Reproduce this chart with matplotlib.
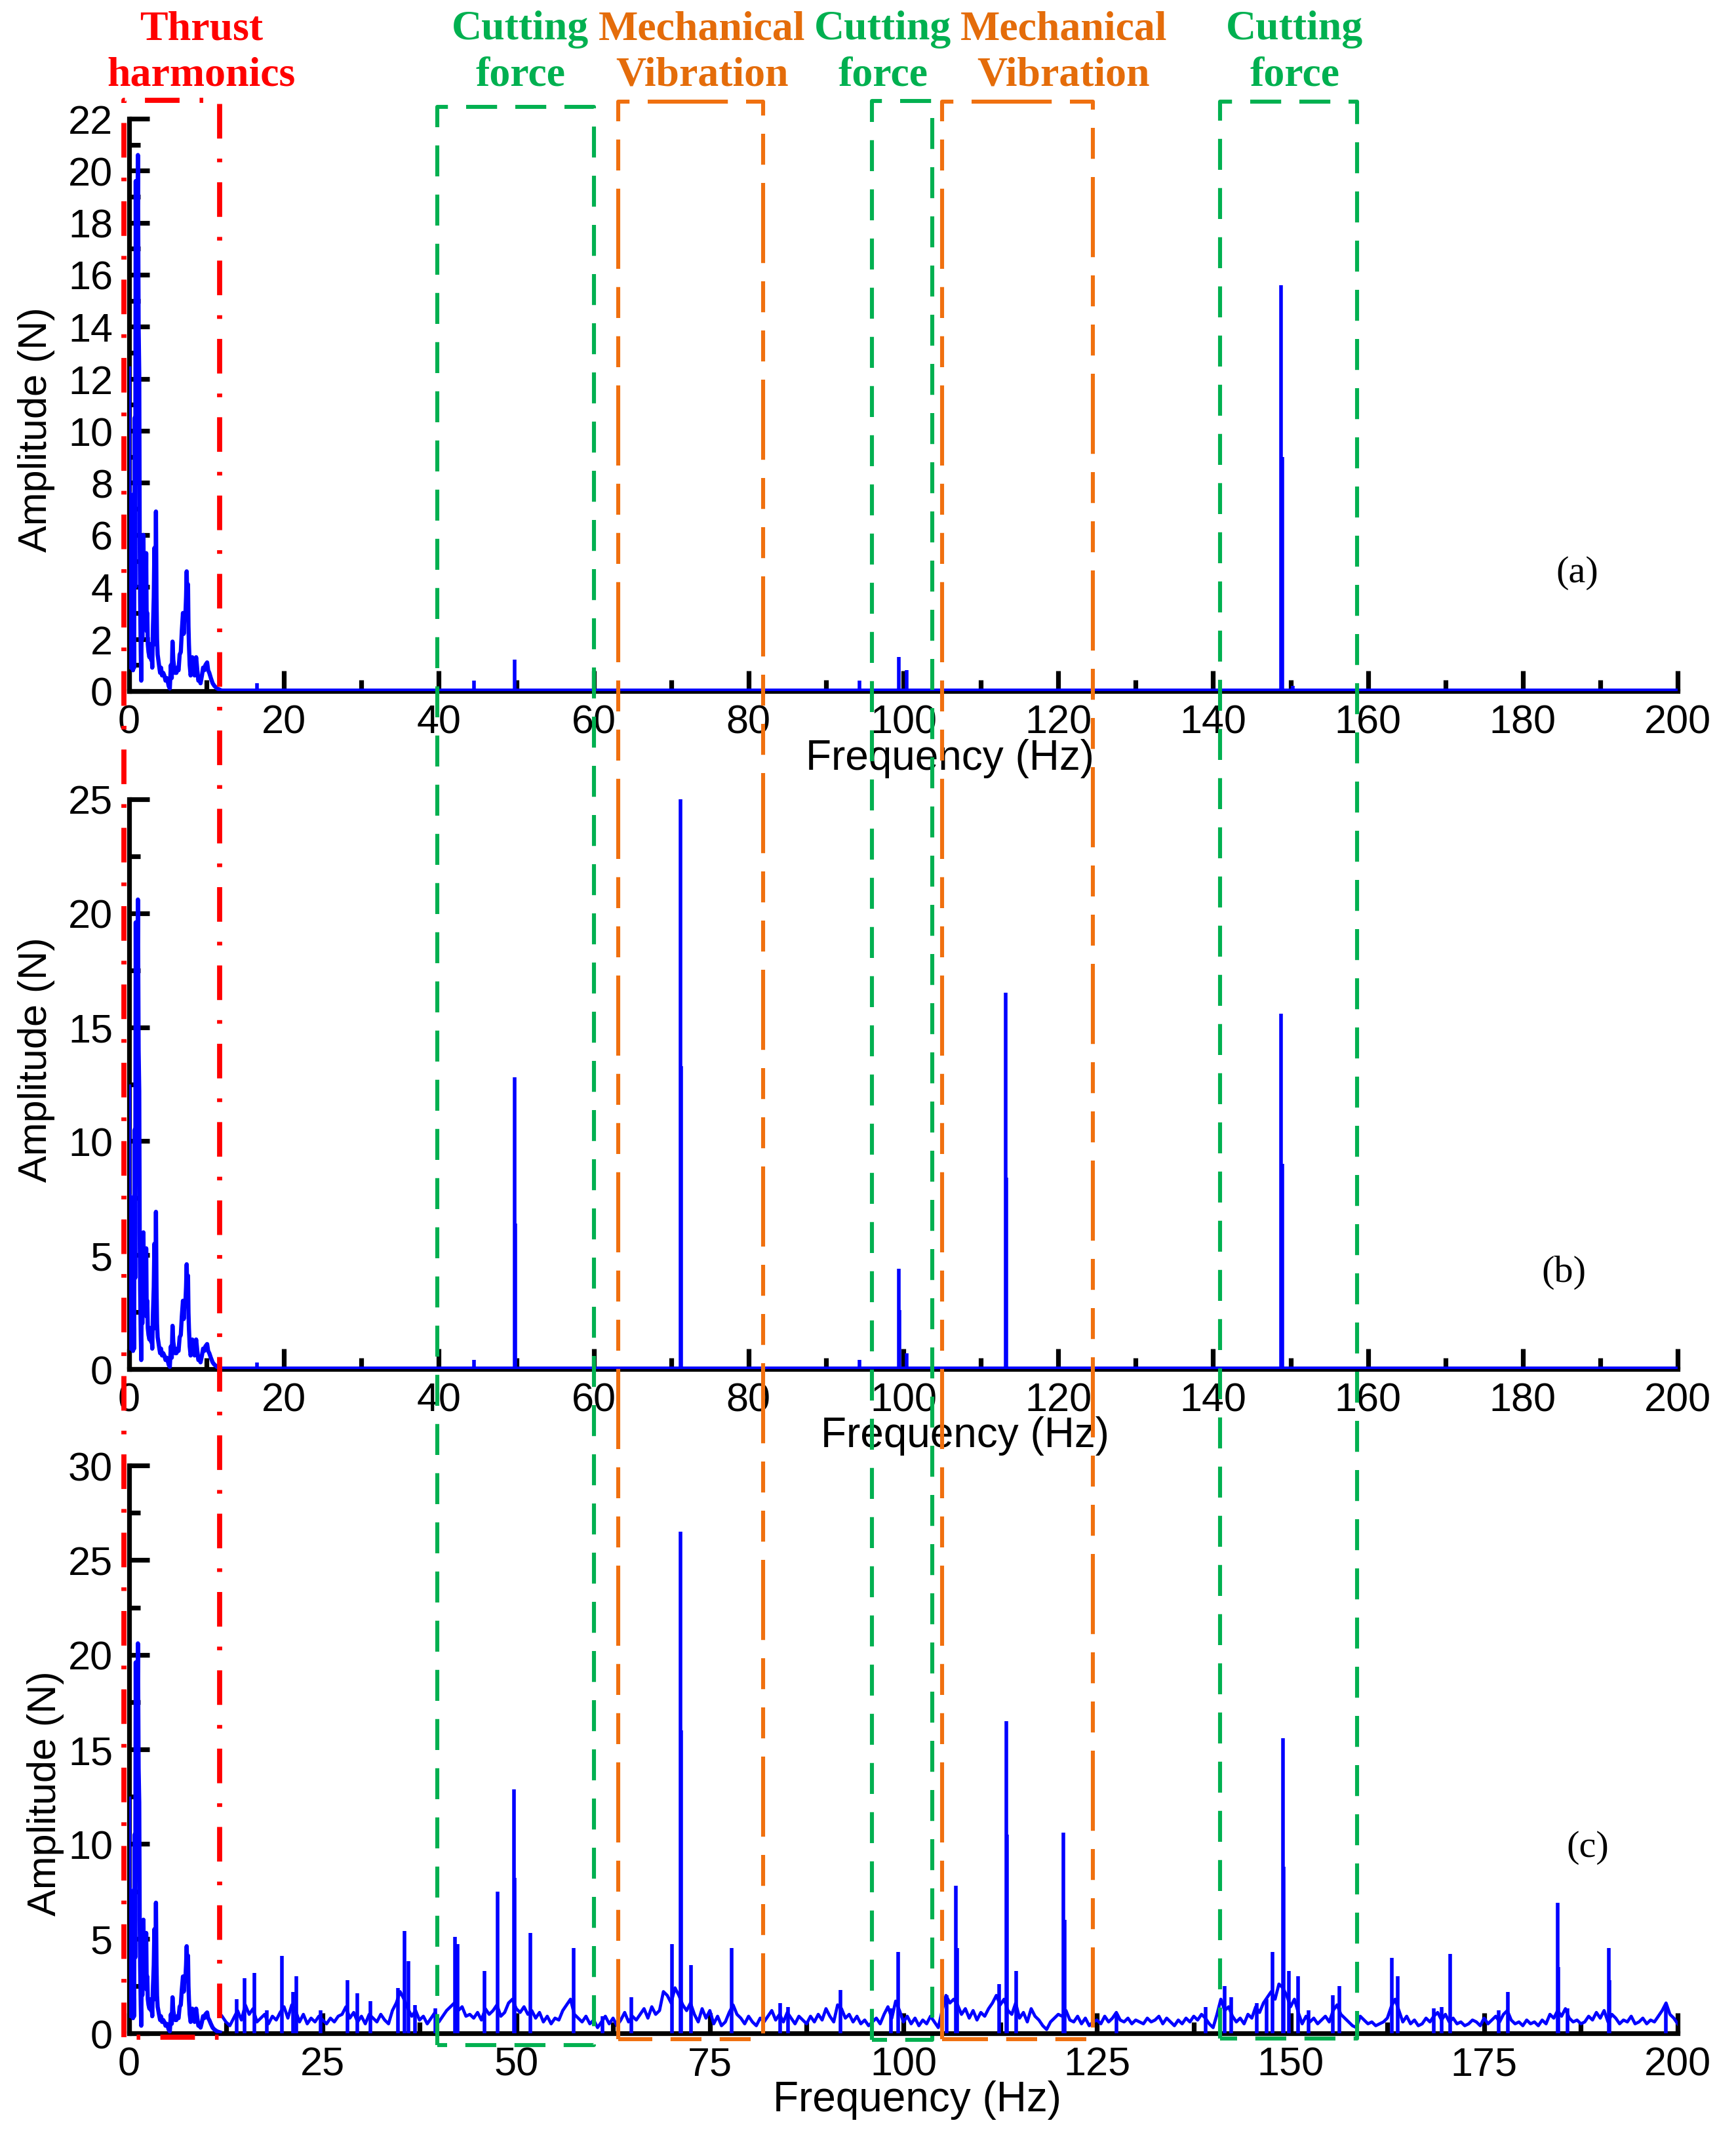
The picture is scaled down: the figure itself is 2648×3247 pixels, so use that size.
import numpy as np
import matplotlib
matplotlib.use("Agg")
import matplotlib.pyplot as plt
from matplotlib.ticker import MultipleLocator
from matplotlib.lines import Line2D

plt.rcParams['font.family'] = ['Liberation Sans', 'DejaVu Sans']
plt.rcParams['lines.scale_dashes'] = False

#-------------------------------
#   data
#-------------------------------
# thrust harmonics region, same in all three panels (Hz, N)
low_f = [0.00, 0.06, 0.12, 0.20, 0.27, 0.34, 0.42, 0.50, 0.57, 0.64,
         0.71, 0.78, 0.85, 0.92, 1.00, 1.13, 1.22, 1.30, 1.36, 1.42,
         1.50, 1.56, 1.63, 1.70, 1.77, 1.84, 1.92, 1.99, 2.06, 2.13,
         2.20, 2.27, 2.34, 2.41, 2.50, 2.62, 2.75, 2.84, 2.92, 2.98,
         3.08, 3.18, 3.26, 3.32, 3.40, 3.46, 3.53, 3.60, 3.68, 3.77,
         3.90, 4.00, 4.11, 4.25, 4.40, 4.54, 4.70, 4.85, 4.96, 5.10,
         5.25, 5.39, 5.50, 5.60, 5.70, 5.82, 5.95, 6.10, 6.25, 6.38,
         6.52, 6.67, 6.80, 6.95, 7.05, 7.15, 7.25, 7.35, 7.43, 7.52,
         7.60, 7.66, 7.72, 7.82, 7.94, 8.05, 8.15, 8.23, 8.35, 8.45,
         8.55, 8.65, 8.80, 8.94, 9.08, 9.22, 9.40, 9.55, 9.70, 9.85,
         10.07, 10.20, 10.35, 10.55, 10.78, 11.00, 11.35, 11.70]
low_a = [12.4, 2.5, 7.6, 0.9, 3.8, 1.2, 3.3, 0.8, 2.0, 0.9,
         10.5, 4.0, 19.6, 9.0, 15.0, 20.6, 14.0, 12.2, 6.0, 3.5,
         1.5, 0.4, 3.8, 2.0, 3.0, 6.0, 3.0, 3.0, 5.2, 3.0,
         5.3, 2.3, 3.0, 1.8, 1.5, 1.3, 1.8, 1.2, 1.5, 0.9,
         2.5, 3.6, 5.5, 1.8, 4.0, 6.9, 3.6, 2.0, 1.4, 1.2,
         0.9, 0.7, 0.9, 0.6, 0.7, 0.6, 0.4, 0.5, 0.4, 0.2,
         0.1, 1.0, 0.5, 1.9, 1.2, 0.9, 0.7, 0.7, 0.9, 0.8,
         1.4, 1.5, 2.3, 3.0, 2.2, 3.0, 2.8, 3.6, 4.6, 3.2,
         4.1, 2.5, 1.8, 1.0, 0.6, 0.9, 1.3, 0.9, 0.7, 0.6,
         0.9, 1.3, 0.8, 0.4, 0.5, 0.3, 0.6, 0.9, 0.8, 1.0,
         1.1, 0.8, 0.7, 0.5, 0.3, 0.2, 0.1, 0.05]

# flat floor of panels (a) and (b)
floor_ab_f = [11.70, 200.0]
floor_ab_a = [0.05, 0.05]

# noise floor of panel (c), every 0.5 Hz from 12 to 200 Hz
floor_c_a = [
    0.9, 0.6, 0.4, 0.8, 1.2, 0.7, 1.5, 1.0, 1.3, 0.6,
    0.8, 1.0, 0.5, 0.9, 0.7, 1.1, 1.4, 0.8, 1.5, 1.2,
    0.6, 1.0, 0.5, 0.8, 0.6, 0.9, 0.7, 0.5, 0.8, 0.6,
    0.9, 1.0, 1.4, 0.8, 1.1, 0.6, 0.9, 0.5, 1.0, 0.8,
    0.6, 1.0, 0.7, 0.5, 1.2, 1.6, 2.2, 1.8, 1.3, 0.9,
    1.2, 0.7, 0.9, 0.5, 0.8, 1.1, 0.6, 0.9, 1.2, 1.4,
    1.6, 1.2, 1.4, 0.9, 1.0, 0.8, 1.1, 0.7, 1.3, 1.0,
    1.2, 1.5, 0.9, 1.1, 1.6, 1.8, 1.3, 1.1, 1.4, 1.0,
    1.2, 0.8, 1.1, 0.6, 0.9, 0.5, 0.8, 0.7, 1.2, 1.5,
    1.8, 1.0, 0.8, 0.6, 0.9, 0.5, 0.7, 0.3, 0.6, 0.9,
    0.5, 0.8, 0.4, 0.7, 1.1, 0.6, 0.9, 0.7, 1.0, 1.3,
    0.8, 1.4, 1.0, 1.2, 2.2, 2.0, 1.6, 2.4, 2.0, 1.5,
    1.2, 1.6, 1.0, 0.6, 1.3, 0.8, 1.2, 0.5, 0.9, 0.4,
    0.6, 1.1, 1.5, 1.0, 0.8, 0.5, 0.9, 0.6, 0.4, 0.8,
    0.6, 0.9, 1.2, 0.7, 1.0, 0.6, 1.1, 0.8, 0.5, 0.9,
    0.7, 0.5, 0.9, 0.6, 1.0, 0.7, 1.3, 0.9, 0.6, 1.5,
    1.3, 0.8, 1.0, 0.6, 0.9, 0.5, 0.7, 0.4, 0.6, 0.8,
    0.5, 1.0, 1.4, 0.8, 1.7, 1.2, 0.6, 0.9, 0.5, 0.8,
    0.4, 0.7, 0.5, 0.9, 0.6, 0.3, 1.2, 2.0, 1.6, 1.8,
    1.5, 1.0, 1.3, 0.8, 1.2, 0.7, 1.1, 0.9, 1.3, 1.6,
    2.0, 1.5, 1.8, 1.2, 1.0, 1.6, 0.8, 1.1, 0.6, 1.3,
    0.9, 0.7, 0.4, 0.2, 0.6, 0.8, 1.0, 0.9, 1.2, 0.7,
    0.6, 0.9, 0.5, 0.8, 0.4, 0.6, 0.7, 0.5, 0.9, 0.6,
    0.8, 1.1, 0.7, 0.6, 0.8, 0.5, 0.7, 0.6, 0.5, 0.8,
    0.6, 0.7, 0.9, 0.5, 0.8, 0.6, 0.4, 0.7, 0.5, 0.8,
    0.6, 0.9, 0.7, 1.0, 0.8, 0.5, 0.3, 1.0, 1.8, 1.2,
    1.4, 0.9, 0.6, 0.8, 0.5, 1.0, 0.8, 1.4, 1.1, 1.6,
    1.9, 2.2, 1.8, 2.6, 2.4, 2.0, 1.4, 1.8, 1.1, 0.5,
    0.9, 0.6, 0.8, 0.5, 0.7, 0.9, 0.6, 1.2, 1.5, 1.0,
    0.8, 0.6, 0.4, 0.3, 0.9, 0.7, 0.5, 0.6, 0.4, 0.5,
    0.6, 0.8, 1.4, 1.8, 1.2, 0.6, 0.9, 0.5, 0.7, 0.4,
    0.5, 0.8, 0.6, 0.9, 1.1, 0.7, 1.0, 0.6, 0.8, 0.5,
    0.6, 0.4, 0.5, 0.7, 0.6, 0.4, 0.8, 0.5, 0.7, 0.9,
    0.6, 1.0, 1.2, 0.7, 0.5, 0.6, 0.4, 0.7, 0.5, 0.6,
    0.4, 0.7, 0.5, 1.0, 0.8, 1.2, 0.9, 1.3, 0.8, 0.6,
    0.7, 0.5, 0.6, 0.9, 0.7, 1.1, 0.8, 1.2, 0.6, 1.0,
    0.8, 0.5, 0.7, 0.6, 0.9, 0.5, 0.6, 0.8, 0.5, 0.7,
    0.6, 0.9, 1.2, 1.6, 1.0, 0.8, 0.5]
floor_c_f = np.arange(12.0, 200.25, 0.5)

# sharp lines (Hz, N)
peaks_a = [(16.5, 0.3), (44.5, 0.4), (49.8, 1.2), (94.3, 0.4), (99.4, 1.3),
           (100.4, 0.8), (148.8, 15.6), (148.9, 9.0), (150.3, 0.2)]
peaks_b = [(16.5, 0.3), (44.5, 0.4), (49.8, 12.8), (49.9, 6.4), (71.2, 25.0),
           (71.3, 13.3), (94.3, 0.4), (99.4, 4.4), (99.5, 2.6), (100.4, 0.7),
           (113.2, 16.5), (113.3, 8.4), (148.8, 15.6), (148.9, 9.0)]
peaks_c = [(13.9, 1.8), (14.9, 2.9), (16.2, 3.2), (17.8, 1.2), (19.7, 4.1),
           (21.2, 2.2), (21.6, 3.0), (24.7, 1.2), (28.2, 2.8), (29.5, 2.1),
           (31.2, 1.7), (34.7, 2.4), (35.6, 5.4), (36.1, 3.8), (36.9, 1.5),
           (39.5, 1.3), (42.1, 5.1), (42.4, 4.7), (45.9, 3.3), (47.6, 7.5),
           (49.7, 12.9), (49.8, 8.2), (51.8, 5.3), (57.4, 4.5), (61.1, 0.9),
           (64.9, 1.9), (70.1, 4.7), (71.2, 26.5), (71.3, 16.0), (72.6, 3.6),
           (77.8, 4.5), (84.1, 1.6), (85.1, 1.4), (91.9, 2.3), (98.4, 1.3),
           (99.3, 4.3), (105.6, 2.0), (106.8, 7.8), (106.9, 4.5), (112.4, 2.6),
           (113.3, 16.5), (113.4, 10.5), (114.6, 3.3), (120.7, 10.6), (120.8, 6.0),
           (127.5, 1.0), (139.0, 1.4), (141.5, 2.5), (142.3, 1.9), (145.6, 1.6),
           (146.9, 1.8), (147.7, 4.3), (149.0, 15.6), (149.1, 8.8), (149.8, 3.3),
           (151.0, 3.0), (152.3, 1.2), (155.5, 2.0), (156.3, 2.5), (163.1, 4.0),
           (163.8, 3.0), (168.5, 1.3), (169.5, 1.4), (170.6, 4.2), (176.9, 1.2),
           (178.1, 2.2), (184.5, 6.9), (184.6, 3.5), (185.8, 1.3), (191.1, 4.5),
           (191.2, 2.8), (198.5, 1.4)]

# annotated frequency bands (Hz)
bands = [(-0.7, 11.7), (39.8, 60.0), (63.2, 81.9),
         (95.9, 103.7), (105.0, 124.5), (140.9, 158.6)]
band_names = ["Thrust\nharmonics", "Cutting\nforce", "Mechanical\nVibration",
              "Cutting\nforce", "Mechanical\nVibration", "Cutting\nforce"]

RED = '#FF0000'
GREEN = '#00B050'
ORANGE = '#F0700F'
ORANGE_TXT = '#E46C0A'
BLUE = '#0000FF'

#-------------------------------
#   figure and panels
#-------------------------------
fig = plt.figure(figsize=(13.24, 16.24), dpi=200)
fig.patch.set_facecolor('white')

L, W = 0.0744, 0.892
ax_a = fig.add_axes([L, 0.6752, W, 0.2688])
ax_b = fig.add_axes([L, 0.3568, W, 0.2676])
ax_c = fig.add_axes([L, 0.04495, W, 0.2666])


def style(ax, ymax, ymaj, ymin_, xmaj, xmin_):
    ax.set_xlim(0, 200)
    ax.set_ylim(0, ymax)
    ax.spines['top'].set_visible(False)
    ax.spines['right'].set_visible(False)
    ax.spines['left'].set_linewidth(2.6)
    ax.spines['bottom'].set_linewidth(2.6)
    ax.xaxis.set_major_locator(MultipleLocator(xmaj))
    ax.xaxis.set_minor_locator(MultipleLocator(xmin_))
    ax.yaxis.set_major_locator(MultipleLocator(ymaj))
    ax.yaxis.set_minor_locator(MultipleLocator(ymin_))
    ax.tick_params(which='both', direction='in', width=2.6, labelsize=22)
    ax.tick_params(which='major', length=11)
    ax.tick_params(which='minor', length=6)
    ax.tick_params(axis='x', pad=7)
    ax.tick_params(axis='y', pad=9)
    ax.set_facecolor('none')


def spectrum(ax, ff, fa, peaks):
    ax.plot(low_f, low_a, color=BLUE, lw=2.3, zorder=3)
    ax.plot(ff, fa, color=BLUE, lw=1.7, zorder=3)
    pf = [p[0] for p in peaks]
    pa = [p[1] for p in peaks]
    ax.vlines(pf, 0, pa, color=BLUE, lw=2.0, zorder=3)


spectrum(ax_a, floor_ab_f, floor_ab_a, peaks_a)
spectrum(ax_b, floor_ab_f, floor_ab_a, peaks_b)
spectrum(ax_c, floor_c_f, floor_c_a, peaks_c)

style(ax_a, 22, 2, 1, 20, 10)
style(ax_b, 25, 5, 2.5, 20, 10)
style(ax_c, 30, 5, 2.5, 25, 12.5)

for ax, xl, yl, yy in [(ax_a, 0.53, -0.048, 0.458),
                       (ax_b, 0.54, -0.048, 0.544),
                       (ax_c, 0.509, -0.042, 0.424)]:
    ax.set_xlabel('Frequency (Hz)', fontsize=23)
    ax.xaxis.set_label_coords(xl, -0.082)
    ax.set_ylabel('Amplitude (N)', fontsize=22)
    ax.yaxis.set_label_coords(yl, yy)

fig.text(0.9086, 0.731, '(a)', family='Liberation Serif', fontsize=21,
         ha='center', va='center')
fig.text(0.9007, 0.4024, '(b)', family='Liberation Serif', fontsize=21,
         ha='center', va='center')
fig.text(0.9147, 0.1324, '(c)', family='Liberation Serif', fontsize=21,
         ha='center', va='center')

#-------------------------------
#   band boxes over all panels
#-------------------------------
ov = fig.add_axes([L, 0, W, 1], zorder=10)
ov.set_xlim(0, 200)
ov.set_ylim(3248, 0)
ov.axis('off')
ov.patch.set_visible(False)

box_top = [154, 164, 156, 155, 156, 156]
box_bot = [3108, 3120, 3111, 3112, 3111, 3110]
box_col = [RED, GREEN, ORANGE, GREEN, ORANGE, GREEN]
box_ls = [(0, (19, 11, 2, 11)), (0, (17, 10)), (0, (44, 10, 17, 10, 17, 10)),
          (0, (17, 10)), (0, (44, 10, 17, 10, 17, 10)), (0, (17, 10))]
box_lw = [2.8, 2.2, 2.2, 2.2, 2.2, 2.2]

for (x0, x1), t, b, c, ls, lw in zip(bands, box_top, box_bot, box_col, box_ls, box_lw):
    ov.add_line(Line2D([x0, x0, x1, x1, x0], [b, t, t, b, b], color=c,
                       linestyle=ls, lw=lw, clip_on=False))

label_x = [0.1158, 0.2997, 0.4045, 0.5086, 0.6127, 0.7457]
label_col = [RED, GREEN, ORANGE_TXT, GREEN, ORANGE_TXT, GREEN]
for name, x, c in zip(band_names, label_x, label_col):
    top, bottom = name.split('\n')
    fig.text(x, 0.9815, top, color=c, family='Liberation Serif',
             weight='bold', fontsize=23, ha='center', va='baseline')
    fig.text(x, 0.9598, bottom, color=c, family='Liberation Serif',
             weight='bold', fontsize=23, ha='center', va='baseline')

fig.savefig('out.png', dpi=200, facecolor='white')
